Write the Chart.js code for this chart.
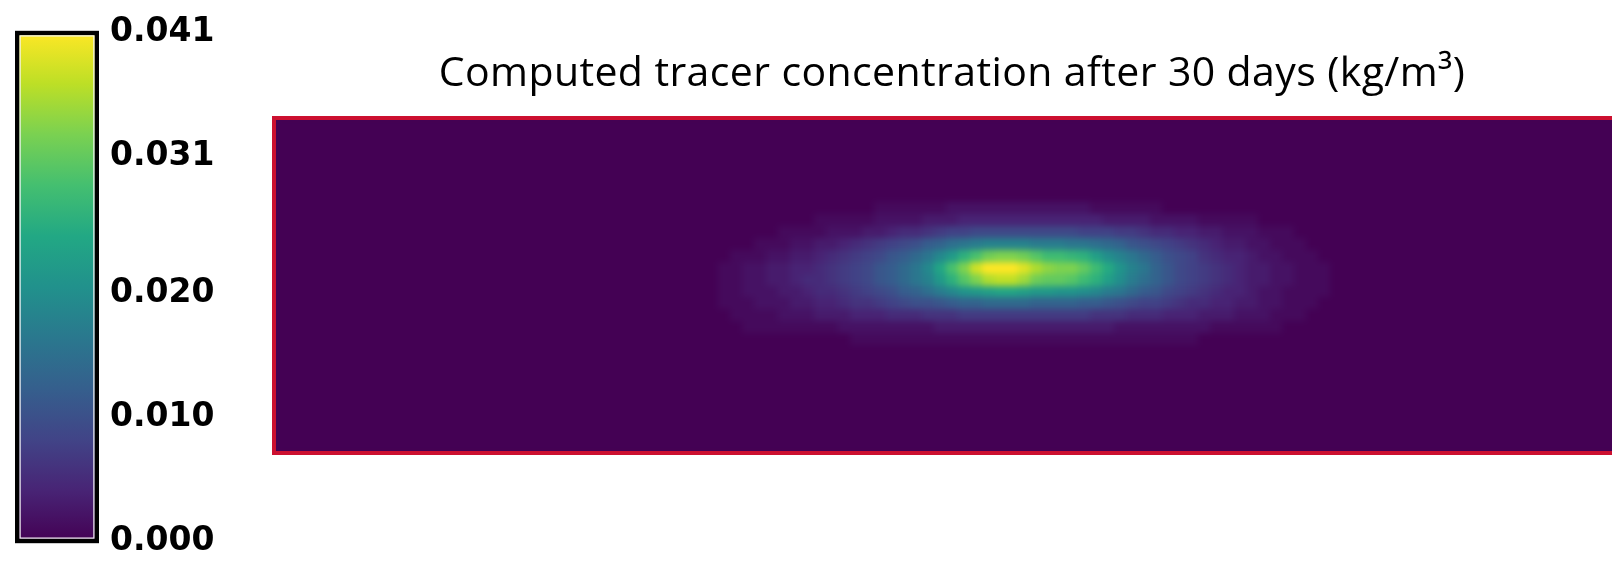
<!DOCTYPE html>
<html>
<head>
<meta charset="utf-8">
<title>Tracer concentration</title>
<script src="https://cdn.jsdelivr.net/npm/chart.js@4.4.1/dist/chart.umd.min.js"></script>
<style>
  html, body { margin: 0; padding: 0; background: #fff; overflow: hidden; }
  #stage { position: relative; width: 1612px; height: 574px; overflow: hidden; }
  #heat { position: absolute; left: 0; top: 0; width: 1630px; height: 574px; }
  #cbar { position: absolute; left: 0; top: 0; width: 260px; height: 574px; }
</style>
</head>
<body>
<div id="stage">
  <canvas id="heat" width="1630" height="574"></canvas>
  <canvas id="cbar" width="260" height="574"></canvas>
</div>
<script>
// Model grid: 113 columns x 28 rows. Only the plume window (rows 7-18,
// columns 37-88) holds non-zero tracer; values are in g/m³ (0.001 kg/m³).
const gridCols = 113;
const gridRows = 28;
const firstCol = 37;
const firstRow = 7;

const row07 = [0,0,0,0,0,0,0,0,0,0,0,0,0,1,1,1,1,1,1,2,2,2,2,2,2,2,2,2,2,2,2,1,1,1,1,1,1,0,0,0,0,0,0,0,0,0,0,0,0,0,0,0];
const row08 = [0,0,0,0,0,0,0,0,1,1,1,1,1,2,2,2,2,3,3,3,4,4,4,4,4,4,4,4,4,4,4,4,3,3,3,3,2,2,2,2,1,1,1,1,1,0,0,0,0,0,0,0];
const row09 = [0,0,0,0,0,1,1,1,1,2,2,2,3,3,4,5,5,6,7,8,8,9,9,9,9,9,9,9,9,9,8,8,8,7,7,6,5,5,4,4,3,3,2,2,2,1,1,1,0,0,0,0];
const row10 = [0,0,0,1,1,1,2,2,3,3,4,5,6,7,8,9,10,12,13,15,16,17,18,18,18,18,17,17,17,16,16,15,14,13,11,10,9,8,7,6,5,4,3,3,2,2,1,1,1,0,0,0];
const row11 = [0,1,1,1,2,2,3,3,4,5,6,7,8,9,11,12,14,16,19,22,26,29,32,33,33,32,30,28,28,27,26,23,20,18,16,14,12,10,9,8,6,5,4,4,3,2,2,1,1,1,0,0];
const row12 = [1,1,2,2,3,3,4,4,5,6,7,8,9,11,12,14,16,19,24,29,33,38,41,41,41,39,36,34,33,33,31,28,25,21,18,16,13,11,9,8,7,6,5,4,3,3,2,2,1,1,1,0];
const row13 = [1,1,2,2,3,3,4,5,5,6,7,8,9,11,12,14,16,18,22,26,30,33,36,37,37,35,32,31,31,30,28,26,23,20,17,15,13,11,9,8,7,6,5,4,3,3,2,2,1,1,1,0];
const row14 = [1,1,2,2,2,3,3,4,5,5,6,7,8,9,10,12,13,15,17,19,21,22,23,24,24,23,22,22,21,21,20,19,17,16,14,12,11,9,8,7,6,5,4,4,3,2,2,1,1,1,1,0];
const row15 = [1,1,1,2,2,2,3,3,4,4,5,6,6,7,8,9,10,10,11,12,13,13,14,14,14,14,13,13,13,13,12,12,11,10,9,8,8,7,6,5,5,4,4,3,3,2,2,1,1,1,0,0];
const row16 = [0,1,1,1,1,2,2,2,3,3,3,4,4,4,5,5,5,6,6,6,7,7,7,7,7,7,7,7,7,7,7,6,6,6,5,5,5,4,4,4,3,3,3,2,2,2,1,1,1,0,0,0];
const row17 = [0,0,1,1,1,1,1,1,1,1,2,2,2,2,2,2,2,2,3,3,3,3,3,3,3,3,3,3,3,3,3,3,3,2,2,2,2,2,2,2,2,1,1,1,1,1,1,0,0,0,0,0];
const row18 = [0,0,0,0,0,0,0,0,0,0,0,1,1,1,1,1,1,1,1,1,1,1,1,1,1,1,1,1,1,1,1,1,1,1,1,1,1,1,1,1,0,0,0,0,0,0,0,0,0,0,0,0];
const plumeRows = [row07, row08, row09, row10, row11, row12, row13, row14, row15, row16, row17, row18];

// Colour bar range and its labelled ticks, kg/m³.
const colorMax = 0.041;
const cbarTickValues = [0, 0.010, 0.020, 0.031, 0.041];
const cbarTickLabels = ['0.000', '0.010', '0.020', '0.031', '0.041'];

const titleText = 'Computed tracer concentration after 30 days (kg/m³)';

// Viridis colour map, 11 evenly spaced stops.
const VIRIDIS = ['#440154', '#482475', '#414487', '#355f8d', '#2a788e', '#21918c',
                 '#22a884', '#44bf70', '#7ad151', '#bddf26', '#fde725'];
const VIRIDIS_RGB = VIRIDIS.map(h => [1, 3, 5].map(i => parseInt(h.slice(i, i + 2), 16)));

function viridis(t) {
  t = Math.max(0, Math.min(1, t));
  const s = t * (VIRIDIS_RGB.length - 1);
  const i = Math.min(Math.floor(s), VIRIDIS_RGB.length - 2);
  const f = s - i;
  const a = VIRIDIS_RGB[i], b = VIRIDIS_RGB[i + 1];
  const c = a.map((v, k) => Math.round(v + (b[k] - v) * f));
  return `rgb(${c[0]},${c[1]},${c[2]})`;
}

// One point per grid cell, centred in the cell, value converted to kg/m³.
const cells = [];
plumeRows.forEach((row, r) => {
  row.forEach((g, c) => {
    cells.push({ x: firstCol + c + 0.5, y: firstRow + r + 0.5, v: g / 1000 });
  });
});

// Paints the cells through the x/y scales, softened like a resampled raster,
// and frames the domain in red.
const heatCells = {
  id: 'heatCells',
  beforeDraw(chart) {
    chart.ctx.letterSpacing = '0.4px';
  },
  beforeDatasetsDraw(chart) {
    const { ctx, chartArea: a, scales: { x, y } } = chart;
    const w = Math.ceil(a.right - a.left);
    const h = Math.ceil(a.bottom - a.top);
    const off = document.createElement('canvas');
    off.width = w;
    off.height = h;
    const o = off.getContext('2d');
    o.fillStyle = viridis(0);
    o.fillRect(0, 0, w, h);
    for (const p of chart.data.datasets[0].data) {
      if (p.v <= 0) continue;
      const xa = Math.round(x.getPixelForValue(p.x - 0.5) - a.left);
      const xb = Math.round(x.getPixelForValue(p.x + 0.5) - a.left);
      const ya = Math.round(y.getPixelForValue(p.y - 0.5) - a.top);
      const yb = Math.round(y.getPixelForValue(p.y + 0.5) - a.top);
      o.fillStyle = viridis(p.v / colorMax);
      o.fillRect(Math.min(xa, xb), Math.min(ya, yb), Math.abs(xb - xa), Math.abs(yb - ya));
    }
    ctx.save();
    ctx.beginPath();
    ctx.rect(a.left, a.top, w, h);
    ctx.clip();
    ctx.fillStyle = viridis(0);
    ctx.fillRect(a.left, a.top, w, h);
    ctx.filter = 'blur(3px)';
    ctx.drawImage(off, a.left, a.top);
    ctx.restore();
  },
  afterDatasetsDraw(chart) {
    const { ctx, chartArea: a } = chart;
    ctx.save();
    ctx.filter = 'blur(0.7px)';
    ctx.strokeStyle = '#cc1030';
    ctx.lineWidth = 4;
    ctx.strokeRect(a.left, a.top, a.right - a.left, a.bottom - a.top);
    ctx.restore();
  }
};

new Chart(document.getElementById('heat'), {
  type: 'scatter',
  data: {
    datasets: [{ data: cells, pointRadius: 0, pointHoverRadius: 0 }]
  },
  options: {
    responsive: false,
    animation: false,
    devicePixelRatio: 1,
    events: [],
    layout: { padding: { left: 274, right: 0, top: 0, bottom: 121 } },
    scales: {
      x: { type: 'linear', min: 0, max: gridCols, display: false },
      y: { type: 'linear', min: 0, max: gridRows, reverse: true, display: false }
    },
    plugins: {
      legend: { display: false },
      tooltip: { enabled: false },
      title: {
        display: true,
        text: titleText,
        color: '#000',
        font: { family: '"Open Sans", "Noto Sans", sans-serif', size: 41, weight: 'normal', lineHeight: 1.2 },
        padding: { top: 50, bottom: 18.8 }
      }
    }
  },
  plugins: [heatCells]
});

// Colour bar: a single bar spanning the value range, filled with the colour map.
const cbarFrame = {
  id: 'cbarFrame',
  afterDatasetsDraw(chart) {
    const { ctx, chartArea: a } = chart;
    const w = a.right - a.left, h = a.bottom - a.top;
    ctx.save();
    ctx.strokeStyle = '#000';
    ctx.lineWidth = 4.5;
    ctx.strokeRect(a.left + 0.25, a.top + 0.25, w - 0.5, h - 0.5);
    ctx.strokeStyle = '#f4f4f4';
    ctx.lineWidth = 1.2;
    ctx.strokeRect(a.left + 3.1, a.top + 3.1, w - 6.2, h - 6.2);
    ctx.restore();
  }
};

new Chart(document.getElementById('cbar'), {
  type: 'bar',
  data: {
    labels: [''],
    datasets: [{
      data: [colorMax],
      borderWidth: 0,
      barPercentage: 1,
      categoryPercentage: 1,
      backgroundColor: (c) => {
        const a = c.chart.chartArea;
        if (!a) return viridis(0.5);
        const g = c.chart.ctx.createLinearGradient(0, a.bottom, 0, a.top);
        VIRIDIS.forEach((col, i) => g.addColorStop(i / (VIRIDIS.length - 1), col));
        return g;
      }
    }]
  },
  options: {
    responsive: false,
    animation: false,
    devicePixelRatio: 1,
    events: [],
    layout: { padding: { left: 17, right: 0, top: 27, bottom: 14 } },
    scales: {
      x: { display: false },
      y: {
        position: 'right',
        min: 0,
        max: colorMax,
        afterFit: (s) => { s.width = 163; },
        afterBuildTicks: (s) => { s.ticks = cbarTickValues.map(v => ({ value: v })); },
        grid: { display: false, drawTicks: false },
        border: { display: false },
        ticks: {
          autoSkip: false,
          padding: 13,
          color: '#000',
          font: { family: '"DejaVu Sans", sans-serif', size: 33, weight: 'bold' },
          callback: (v, i) => cbarTickLabels[i]
        }
      }
    },
    plugins: {
      legend: { display: false },
      tooltip: { enabled: false }
    }
  },
  plugins: [cbarFrame]
});
</script>
</body>
</html>
